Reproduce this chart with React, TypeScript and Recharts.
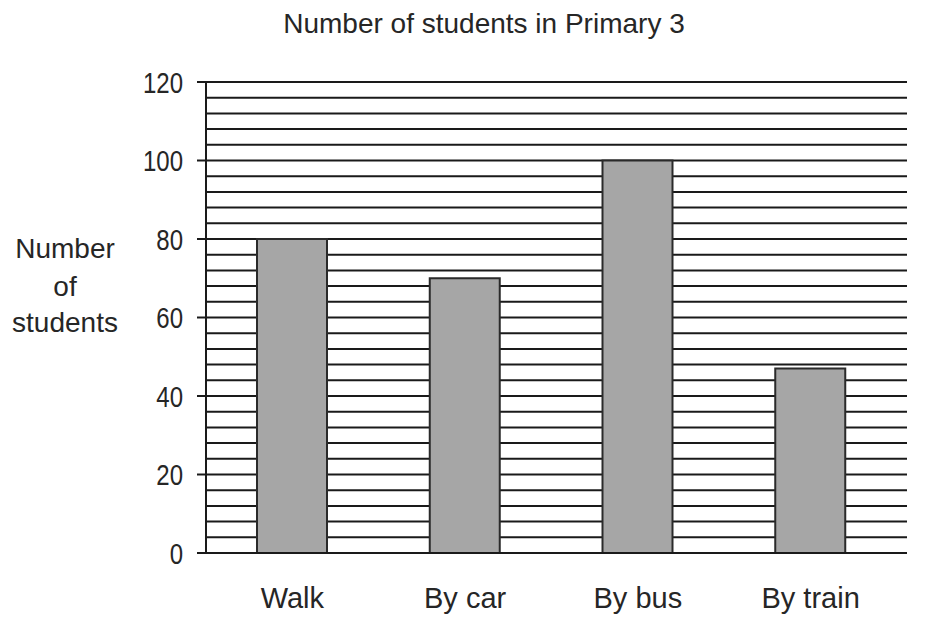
import React from 'react';
import { BarChart, Bar, XAxis, YAxis, CartesianGrid } from 'recharts';

const categories = ['Walk', 'By car', 'By bus', 'By train'];
const students = [80, 70, 100, 47];
const gridValues = [0, 4, 8, 12, 16, 20, 24, 28, 32, 36, 40, 44, 48, 52, 56, 60, 64, 68, 72, 76, 80, 84, 88, 92, 96, 100, 104, 108, 112, 116, 120];
const labelValues = [0, 20, 40, 60, 80, 100, 120];

const data = categories.map((name, i) => ({ name, students: students[i] }));

const INK = '#1a1a1a';
const TEXT = '#262626';
const FONT = '"Liberation Sans", Arial, sans-serif';
const TICK_SIZE = 9;
const TICK_MARGIN = 14;

// y ticks: label + tick mark only every 20, the other values just feed the grid
function YTick(props: any) {
  const { x, y, payload } = props;
  if (!labelValues.includes(payload.value)) return <g />;
  return (
    <g>
      <line x1={x + TICK_MARGIN} x2={x + TICK_MARGIN + TICK_SIZE} y1={y} y2={y} stroke={INK} strokeWidth={2} />
      <text
        transform={`translate(${x},${y}) scale(0.8,1)`}
        dy="0.36em"
        textAnchor="end"
        fontSize={30}
        fontFamily={FONT}
        fill={TEXT}
      >
        {payload.value}
      </text>
    </g>
  );
}

export default function App() {
  return (
    <div style={{ position: 'absolute', left: 0, top: 0, width: 925, height: 632, background: '#fff' }}>
      <BarChart
        width={925}
        height={632}
        data={data}
        margin={{ top: 82, right: 18, bottom: 0, left: 0 }}
        barCategoryGap={0}
      >
        <CartesianGrid vertical={false} stroke={INK} strokeWidth={2} strokeOpacity={1} />
        <XAxis
          dataKey="name"
          height={79}
          tickLine={false}
          tickSize={0}
          tickMargin={34}
          axisLine={{ stroke: INK, strokeWidth: 2 }}
          padding={{ left: 0, right: 10 }}
          tick={{ fill: TEXT, fontSize: 29, fontFamily: FONT }}
        />
        <YAxis
          width={206}
          domain={[0, 120]}
          ticks={gridValues}
          interval={0}
          tickLine={false}
          tickSize={TICK_SIZE}
          tickMargin={TICK_MARGIN}
          axisLine={{ stroke: INK, strokeWidth: 2 }}
          tick={YTick}
        />
        <YAxis
          yAxisId="right"
          orientation="right"
          width={0}
          domain={[0, 120]}
          tick={false}
          tickLine={false}
          axisLine={{ stroke: INK, strokeWidth: 2 }}
        />
        <Bar
          dataKey="students"
          barSize={70}
          fill="#a6a6a6"
          stroke="#2a2a2a"
          strokeWidth={2}
          isAnimationActive={false}
        />
      </BarChart>
      <svg
        width={925}
        height={632}
        style={{ position: 'absolute', left: 0, top: 0, pointerEvents: 'none' }}
      >
        <text x={484} y={33} textAnchor="middle" fontSize={28} fontFamily={FONT} fill={TEXT}>
          Number of students in Primary 3
        </text>
        <g fontSize={28} fontFamily={FONT} fill={TEXT} textAnchor="middle">
          <text x={65} y={258}>Number</text>
          <text x={65} y={296}>of</text>
          <text x={65} y={332}>students</text>
        </g>
      </svg>
    </div>
  );
}
